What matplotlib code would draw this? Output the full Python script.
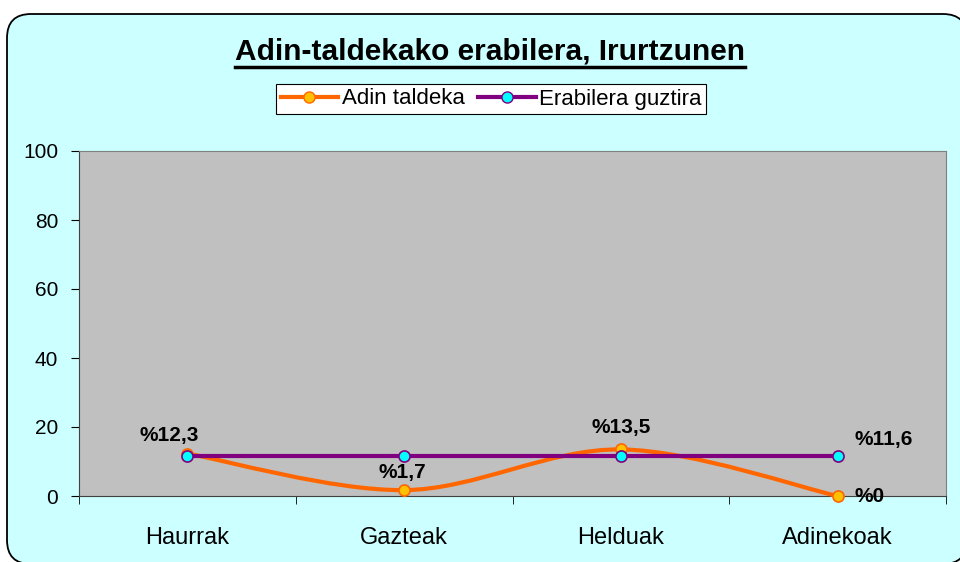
import numpy as np
import matplotlib.pyplot as plt
from matplotlib.patches import FancyBboxPatch, PathPatch
from matplotlib.path import Path
from matplotlib.lines import Line2D

categories = ['Haurrak', 'Gazteak', 'Helduak', 'Adinekoak']
adin_taldeka = [12.3, 1.7, 13.5, 0.0]
erabilera_guztira = [11.6, 11.6, 11.6, 11.6]
adin_labels = ['%12,3', '%1,7', '%13,5', '%0']
guztira_label = '%11,6'

orange = '#FF6600'
purple = '#800080'

plt.rcParams['font.family'] = ['Liberation Sans', 'DejaVu Sans']

fig = plt.figure(figsize=(9.6, 5.62), dpi=100)
fig.patch.set_facecolor('white')

# rounded cyan frame
box = FancyBboxPatch((0.07, -0.02), 9.6, 5.50, boxstyle='round,pad=0,rounding_size=0.24',
                     transform=fig.dpi_scale_trans, facecolor='#CCFFFF', edgecolor='black',
                     linewidth=1.3, zorder=0)
fig.patches.append(box)

ax = fig.add_axes([79/960, 1 - 496/562, 867/960, 345/562])
ax.set_zorder(2)
ax.set_facecolor('#C0C0C0')
x = np.arange(len(categories))


def smooth_path(xs, ys):
    # Excel-style smoothed line: Bezier segments with Catmull-Rom control points
    pts = np.column_stack([xs, ys])
    n = len(pts)
    verts = [pts[0]]
    codes = [Path.MOVETO]
    for i in range(n - 1):
        p0 = pts[max(i - 1, 0)]
        p1 = pts[i]
        p2 = pts[i + 1]
        p3 = pts[min(i + 2, n - 1)]
        c1 = p1 + (p2 - p0) / 6
        c2 = p2 - (p3 - p1) / 6
        verts += [c1, c2, p2]
        codes += [Path.CURVE4] * 3
    return Path(verts, codes)


ax.add_patch(PathPatch(smooth_path(x, adin_taldeka), facecolor='none', edgecolor=orange,
                       linewidth=3, zorder=3, clip_on=False))
ax.plot(x, adin_taldeka, linestyle='none', marker='o', markersize=8, clip_on=False,
        markerfacecolor='#FFC000', markeredgecolor=orange, markeredgewidth=1.2, zorder=4)
ax.plot(x, erabilera_guztira, color=purple, linewidth=3, marker='o', markersize=8,
        markerfacecolor='#00FFFF', markeredgecolor=purple, markeredgewidth=1.2, zorder=5)

lbl = dict(fontsize=15, fontweight='bold', color='black', zorder=6, annotation_clip=False)
offsets = [(-18, 18), (-2, 18), (0, 22)]
for i in range(3):
    ax.annotate(adin_labels[i], (x[i], adin_taldeka[i]), xytext=offsets[i],
                textcoords='offset pixels', ha='center', va='center', **lbl)
ax.annotate(adin_labels[3], (x[3], adin_taldeka[3]), xytext=(17, -1),
            textcoords='offset pixels', ha='left', va='center', **lbl)
ax.annotate(guztira_label, (x[3], erabilera_guztira[3]), xytext=(17, 16),
            textcoords='offset pixels', ha='left', va='center', **lbl)

ax.set_xlim(-0.5, 3.5)
ax.set_ylim(0, 100)
ax.set_yticks(np.arange(0, 101, 20))
ax.tick_params(axis='y', labelsize=15, length=6, pad=9, direction='out')
ax.set_xticks(x)
ax.set_xticklabels(categories, fontsize=17)
ax.set_xticks(np.arange(-0.5, 4, 1), minor=True)
ax.tick_params(axis='x', which='major', length=0, pad=22)
ax.tick_params(axis='x', which='minor', length=6, direction='out')
for s in ['left', 'bottom']:
    ax.spines[s].set_color('#404040')
for s in ['top', 'right']:
    ax.spines[s].set_color('#808080')

fig.text(490/960, 1 - 51/562, 'Adin-taldekako erabilera, Irurtzunen', ha='center', va='center',
         fontsize=21.5, fontweight='bold')
fig.add_artist(Line2D([235/960, 745/960], [1 - 67/562, 1 - 67/562], color='black', linewidth=2.5))

handles = [Line2D([], [], color=orange, linewidth=3, marker='o', markersize=8,
                  markerfacecolor='#FFC000', markeredgecolor=orange),
           Line2D([], [], color=purple, linewidth=3, marker='o', markersize=8,
                  markerfacecolor='#00FFFF', markeredgecolor=purple)]
leg = fig.legend(handles, ['Adin taldeka', 'Erabilera guztira'], loc='center',
                 bbox_to_anchor=(491/960, 1 - 99/562), ncol=2, frameon=True, fancybox=False,
                 edgecolor='black', framealpha=1, handlelength=2.6, handletextpad=0.15,
                 columnspacing=0.6, borderpad=0.2, borderaxespad=0,
                 prop={'size': 16})
leg.get_frame().set_linewidth(0.8)

fig.savefig('out.png', dpi=100)
